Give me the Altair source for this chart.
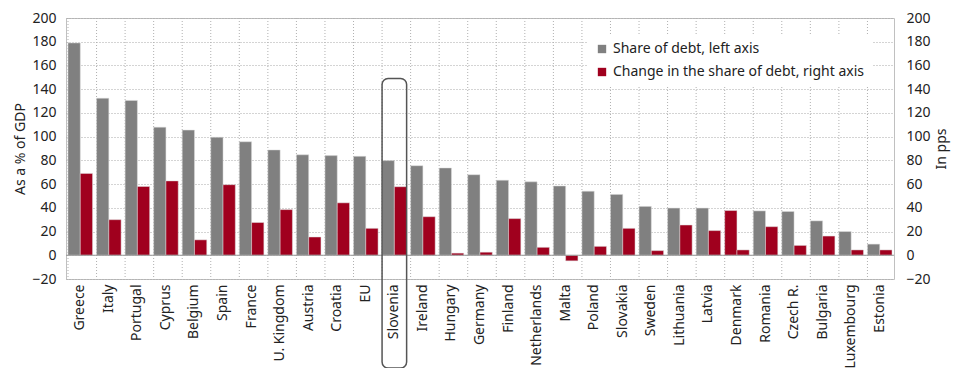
import altair as alt
import pandas as pd

countries = ["Greece", "Italy", "Portugal", "Cyprus", "Belgium", "Spain", "France",
             "U. Kingdom", "Austria", "Croatia", "EU", "Slovenia", "Ireland", "Hungary",
             "Germany", "Finland", "Netherlands", "Malta", "Poland", "Slovakia", "Sweden",
             "Lithuania", "Latvia", "Denmark", "Romania", "Czech R.", "Bulgaria",
             "Luxembourg", "Estonia"]
share = [179, 132.4, 130.5, 108, 105.5, 99.5, 95.7, 88.8, 84.7, 84, 83.4, 79.8, 75.5,
         73.6, 67.9, 63.3, 61.9, 58.4, 54, 51.3, 41.2, 39.8, 39.8, 37.7, 37.4, 36.9,
         29, 20, 9.4]
change = [69, 30, 58, 62.7, 13, 59.5, 27.6, 38.5, 15.4, 44.2, 22.7, 57.8, 32.5, 1.8,
          2.6, 30.9, 6.7, -4.7, 7.5, 22.7, 3.9, 25.5, 20.8, 4.5, 24.1, 8.3, 16.2, 4.5, 4.5]
series_names = ["Share of debt, left axis", "Change in the share of debt, right axis"]
colors = ["#808080", "#A0001E"]
highlight = ["Slovenia"]
highlight_top = [149]

rows = []
for c, s, d in zip(countries, share, change):
    rows.append({"country": c, "series": series_names[0], "value": s})
    rows.append({"country": c, "series": series_names[1], "value": d})
df = pd.DataFrame(rows)
cdf = pd.DataFrame({"country": countries})
zdf = pd.DataFrame({"zero": [0]})
bdf = pd.DataFrame({"country": highlight, "top": highlight_top})

FONT = "Noto Sans"
FS = 14
TXT = "#222222"
dom = [-20, 200]
xenc = alt.X("country:N", sort=countries, title=None,
             scale=alt.Scale(paddingInner=0.14, paddingOuter=0.07),
             axis=alt.Axis(labelAngle=270, labelAlign="right", labelBaseline="middle",
                           ticks=False, domain=False, labelPadding=5, labelFontSize=FS,
                           labelColor=TXT, labelFont=FONT, grid=False))
xoff = alt.XOffset("series:N", scale=alt.Scale(domain=series_names), sort=series_names)
color = alt.condition(
    (alt.datum.country == "Denmark") & (alt.datum.series == series_names[0]),
    alt.value(colors[1]),
    alt.Color("series:N", scale=alt.Scale(domain=series_names, range=colors),
              sort=series_names,
              legend=alt.Legend(title=None, orient="none", legendX=521, legendY=16,
                                fillColor="white", padding=8, symbolType="square",
                                symbolSize=70, symbolStrokeWidth=0, labelFontSize=FS,
                                labelFont=FONT, labelColor=TXT, rowPadding=9,
                                labelLimit=400, offset=0)))

vgrid = alt.Chart(cdf).mark_rule(color="#b0b0b0", strokeDash=[1, 2], strokeWidth=1).encode(
    x=alt.X("country:N", sort=countries, bandPosition=0, title=None)
)

ticks = list(range(-20, 201, 20))
bars_share = alt.Chart(df).transform_filter(
    alt.datum.series == series_names[0]
).mark_bar(stroke="#dddddd", strokeWidth=0.5).encode(
    x=xenc, xOffset=xoff, color=color,
    y=alt.Y("value:Q", scale=alt.Scale(domain=dom, nice=False, zero=False),
            title="As a % of GDP",
            axis=alt.Axis(orient="left", values=ticks, ticks=False,
                          domain=False, grid=True, gridDash=[1, 2], gridColor="#a8a8a8",
                          labelFontSize=FS, labelFont=FONT, labelColor=TXT,
                          titleFont=FONT, titleFontSize=FS, titleFontWeight="normal",
                          titleColor=TXT, labelPadding=10, titlePadding=4)),
)
bars_change = alt.Chart(df).transform_filter(
    alt.datum.series == series_names[1]
).mark_bar(stroke="#dddddd", strokeWidth=0.5).encode(
    x=xenc, xOffset=xoff, color=color,
    y=alt.Y("value:Q", scale=alt.Scale(domain=dom, nice=False, zero=False),
            title="In pps",
            axis=alt.Axis(orient="right", values=ticks, ticks=False,
                          domain=False, grid=False,
                          labelFontSize=FS, labelFont=FONT, labelColor=TXT,
                          titleFont=FONT, titleFontSize=FS, titleFontWeight="normal",
                          titleColor=TXT, labelPadding=12, titlePadding=4,
                          titleAngle=270, titleBaseline="top")),
)
zero = alt.Chart(zdf).mark_rule(color="#999999", strokeWidth=1.2).encode(
    y=alt.Y("zero:Q", scale=alt.Scale(domain=dom, nice=False, zero=False), axis=None)
)
box = alt.Chart(bdf).mark_rect(fill=None, filled=False, stroke="#555555", strokeWidth=1.5,
                                cornerRadius=6, clip=False).encode(
    x=alt.X("country:N", sort=countries, title=None),
    y=alt.Y("top:Q", scale=alt.Scale(domain=dom, nice=False, zero=False), axis=None),
    y2=alt.value(350),
)

chart = alt.layer(vgrid, bars_share, bars_change, zero, box).resolve_scale(
    y="independent"
).properties(
    width=828, height=261,
    autosize=alt.AutoSizeParams(type="none"),
    padding={"left": 58, "top": 10, "right": 58, "bottom": 89},
).configure_view(stroke="#c0c0c0", strokeWidth=1)

chart.save("out.html", embed_options={"renderer": "svg", "actions": False})
